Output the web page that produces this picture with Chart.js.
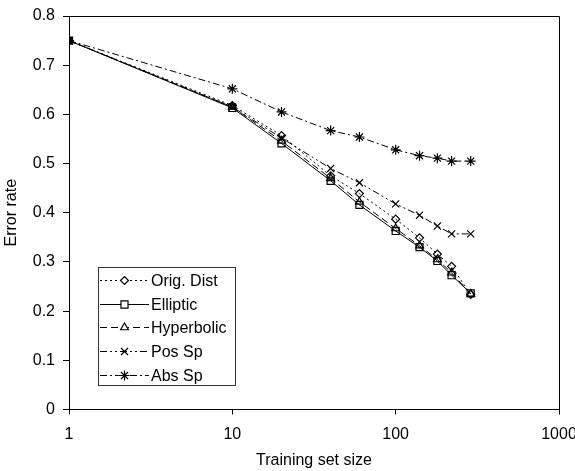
<!DOCTYPE html>
<html>
<head>
<meta charset="utf-8">
<script src="https://cdn.jsdelivr.net/npm/chart.js@4/dist/chart.umd.min.js"></script>
<style>
  html, body { margin: 0; padding: 0; background: #fff; }
  #wrap { width: 575px; height: 471px; }
</style>
</head>
<body>
<div id="wrap"><canvas id="errChart" width="575" height="471"></canvas></div>
<script>
// training set sizes (log axis)
const sizes = [1, 10, 20, 40, 60, 100, 140, 180, 220, 288];

// error rate per method
const origDist   = [0.75, 0.618, 0.557, 0.475, 0.439, 0.387, 0.349, 0.316, 0.291, 0.234];
const elliptic   = [0.75, 0.613, 0.541, 0.465, 0.416, 0.363, 0.330, 0.302, 0.273, 0.236];
const hyperbolic = [0.75, 0.615, 0.546, 0.470, 0.422, 0.368, 0.333, 0.305, 0.278, 0.235];
const posSp      = [0.75, 0.615, 0.552, 0.490, 0.461, 0.418, 0.395, 0.373, 0.357, 0.357];
const absSp      = [0.75, 0.652, 0.605, 0.567, 0.554, 0.528, 0.516, 0.511, 0.505, 0.505];

const seriesNames = ["Orig. Dist", "Elliptic", "Hyperbolic", "Pos Sp", "Abs Sp"];

const xTicks = [1, 10, 100, 1000];
const yTicks = ["0", "0.1", "0.2", "0.3", "0.4", "0.5", "0.6", "0.7", "0.8"];

const FONT = "'Liberation Sans', Arial, sans-serif";

function toPoints(vals) {
  return sizes.map((s, i) => ({ x: s, y: vals[i] }));
}

function makeSet(label, vals, dash, style, radius) {
  return {
    label: label,
    data: toPoints(vals),
    borderColor: "#000",
    borderWidth: 1,
    borderDash: dash,
    pointStyle: style,
    pointRadius: radius,
    pointBorderColor: "#000",
    pointBackgroundColor: "rgba(0,0,0,0)",
    pointBorderWidth: 1.2,
    tension: 0,
    fill: false,
  };
}

//---------------------------------------------------
// legend + frame drawn on canvas
//---------------------------------------------------
const boxLegend = {
  id: "boxLegend",
  afterDraw(chart) {
    const ctx = chart.ctx;
    const a = chart.chartArea;
    ctx.save();

    // plot frame (top + right)
    ctx.strokeStyle = "#000";
    ctx.lineWidth = 1;
    ctx.beginPath();
    ctx.moveTo(Math.round(a.left) + 0.5, Math.round(a.top) + 0.5);
    ctx.lineTo(Math.round(a.right) + 0.5, Math.round(a.top) + 0.5);
    ctx.lineTo(Math.round(a.right) + 0.5, Math.round(a.bottom) + 0.5);
    ctx.stroke();

    // legend box
    const bx = 98.5, by = 267.5, bw = 137, bh = 118;
    ctx.fillStyle = "#fff";
    ctx.fillRect(bx, by, bw, bh);
    ctx.strokeStyle = "#333";
    ctx.strokeRect(bx, by, bw, bh);

    ctx.font = "16px " + FONT;
    ctx.textBaseline = "middle";
    ctx.textAlign = "left";

    chart.data.datasets.forEach((ds, i) => {
      const y = Math.round(280 + i * 23.7) + 0.5;
      ctx.strokeStyle = "#000";
      ctx.lineWidth = 1;
      ctx.setLineDash(ds.borderDash || []);
      ctx.beginPath();
      ctx.moveTo(100, y);
      ctx.lineTo(149, y);
      ctx.stroke();
      ctx.setLineDash([]);
      if (Chart.helpers && Chart.helpers.drawPoint) {
        ctx.fillStyle = "#fff";
        ctx.lineWidth = 1.2;
        Chart.helpers.drawPoint(ctx, {
          pointStyle: ds.pointStyle,
          radius: ds.pointRadius,
          borderWidth: 1.2,
          rotation: 0,
        }, 124.5, y);
      }
      ctx.fillStyle = "#000";
      ctx.fillText(ds.label, 151, y + 1);
    });
    ctx.restore();
  },
};

//---------------------------------------------------
// Chart
//---------------------------------------------------
const ctx = document.getElementById("errChart");

const chart = new Chart(ctx, {
  type: "line",
  data: {
    datasets: [
      makeSet(seriesNames[0], origDist, [2, 3], "rectRot", 4),
      makeSet(seriesNames[1], elliptic, [], "rect", 5),
      makeSet(seriesNames[2], hyperbolic, [7, 4], "triangle", 4.5),
      makeSet(seriesNames[3], posSp, [7, 3, 2, 3, 2, 3], "crossRot", 5),
      makeSet(seriesNames[4], absSp, [7, 3, 2, 3], "star", 5),
    ],
  },
  options: {
    responsive: false,
    animation: false,
    layout: { padding: { top: 16, right: 16, left: 0, bottom: 0 }, autoPadding: false },
    plugins: {
      legend: { display: false },
      tooltip: { enabled: false },
    },
    scales: {
      x: {
        type: "logarithmic",
        min: 1,
        max: 1000,
        afterBuildTicks: (scale) => {
          scale.ticks = xTicks.map((v) => ({ value: v }));
        },
        afterFit: (scale) => {
          scale.height = 61.5;
          scale.paddingLeft = 0;
          scale.paddingRight = 0;
        },
        ticks: {
          color: "#000",
          font: { family: FONT, size: 16 },
          padding: 10,
          maxRotation: 0,
          autoSkip: false,
          callback: (v) => String(v),
        },
        grid: { drawOnChartArea: false, tickLength: 5, color: "#000" },
        border: { color: "#000", width: 1 },
        title: {
          display: true,
          text: "Training set size",
          color: "#000",
          font: { family: FONT, size: 16 },
          padding: { top: 2, bottom: 1 },
        },
      },
      y: {
        min: 0,
        max: 0.8,
        afterBuildTicks: (scale) => {
          scale.ticks = yTicks.map((t) => ({ value: parseFloat(t) }));
        },
        afterFit: (scale) => {
          scale.width = 69;
          scale.paddingTop = 0;
          scale.paddingBottom = 0;
        },
        ticks: {
          color: "#000",
          font: { family: FONT, size: 16 },
          padding: 8,
          callback: (v, i) => yTicks[i],
        },
        grid: { drawOnChartArea: false, tickLength: 6, color: "#000" },
        border: { color: "#000", width: 1 },
        title: {
          display: true,
          text: "Error rate",
          color: "#000",
          font: { family: FONT, size: 16 },
          padding: { top: 2, bottom: 2 },
        },
      },
    },
  },
  plugins: [boxLegend],
});
</script>
</body>
</html>
